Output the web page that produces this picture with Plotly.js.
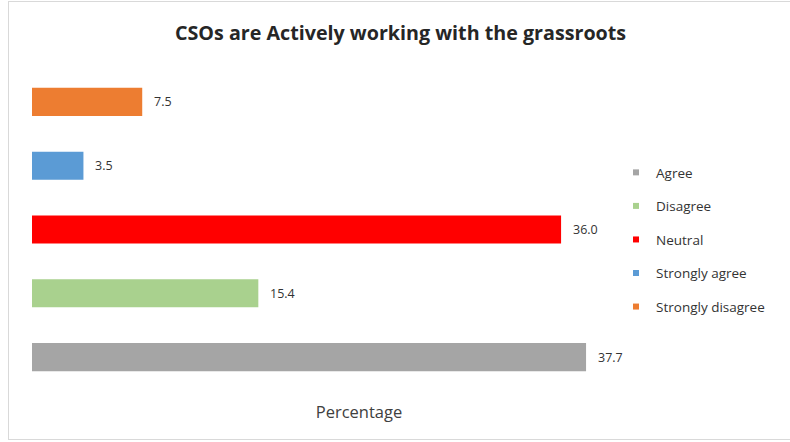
<!DOCTYPE html>
<html>
<head>
<meta charset="utf-8">
<script src="https://cdn.plot.ly/plotly-3.0.1.min.js"></script>
<style>
  html, body { margin: 0; padding: 0; background: #fff; }
  #chart { width: 790px; height: 442px; position: relative; }
  #frame { position: absolute; left: 8px; top: 1px; width: 790px; height: 439px;
           border-left: 1px solid #d9d9d9; border-top: 1px solid #d9d9d9; border-bottom: 1px solid #d9d9d9;
           pointer-events: none; box-sizing: border-box; }
</style>
</head>
<body>
<div id="chart"></div>
<div id="frame"></div>
<script>
const categories = ["Agree", "Disagree", "Neutral", "Strongly agree", "Strongly disagree"];
const values = [37.7, 15.4, 36.0, 3.5, 7.5];
const labels = ["37.7", "15.4", "36.0", "3.5", "7.5"];
const colors = ["#a5a5a5", "#a9d18e", "#ff0000", "#5b9bd5", "#ed7d31"];
const chartTitle = "CSOs are Actively working with the grassroots";
const xTitle = "Percentage";

const font = "'Open Sans', Lato, sans-serif";
const traces = [];
categories.forEach((c, i) => {
  traces.push({
    type: "bar", orientation: "h",
    x: [values[i]], y: [c], name: c,
    width: 0.44,
    marker: { color: colors[i], line: { width: 0 } },
    showlegend: false, hoverinfo: "x+name"
  });
});
categories.forEach((c, i) => {
  traces.push({
    type: "scatter", mode: "markers",
    x: [null], y: [null], name: c, legendgroup: c,
    marker: { symbol: "square", size: 6, color: colors[i] },
    showlegend: true
  });
});

const annotations = categories.map((c, i) => ({
  x: values[i], y: c, xref: "x", yref: "y",
  text: labels[i], showarrow: false, xanchor: "left", xshift: 10,
  font: { family: font, size: 12.5, color: "#333333" }
}));

const layout = {
  width: 790, height: 442,
  margin: { l: 32, r: 104, t: 70, b: 53 },
  paper_bgcolor: "#ffffff", plot_bgcolor: "#ffffff",
  title: { text: "<b>" + chartTitle + "</b>", x: 0.507, xanchor: "center", y: 0.926, yanchor: "middle",
           font: { family: font, size: 19.7, color: "#262626" } },
  barmode: "overlay",
  xaxis: { range: [0, 44.5], showgrid: false, zeroline: false, showline: false, showticklabels: false, ticks: "",
           title: { text: xTitle, standoff: 17, font: { family: font, size: 16.5, color: "#404040" } } },
  yaxis: { type: "category", categoryorder: "array", categoryarray: categories, range: [-0.5, 4.5],
           showgrid: false, zeroline: false, showline: false, showticklabels: false, ticks: "" },
  legend: { x: 0.893, xanchor: "left", y: 0.727, yanchor: "top", traceorder: "grouped", tracegroupgap: 13,
            font: { family: font, size: 13.5, color: "#333333" }, bgcolor: "rgba(0,0,0,0)", itemwidth: 30 },
  annotations: annotations,
  showlegend: true
};

Plotly.newPlot("chart", traces, layout, { displayModeBar: false, staticPlot: true });
</script>
</body>
</html>
